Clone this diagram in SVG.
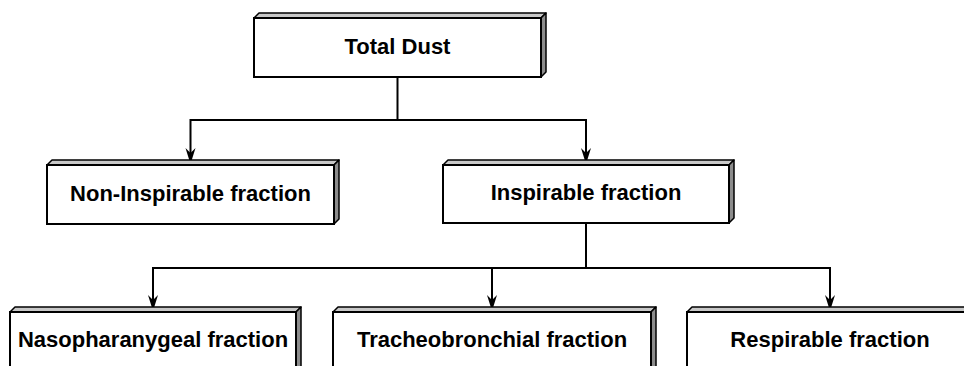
<svg xmlns="http://www.w3.org/2000/svg" width="964" height="366" viewBox="0 0 964 366">
<style>
.front{fill:#fff;stroke:#000;stroke-width:2}
.top{fill:#c8c8c8;stroke:#000;stroke-width:1.5;stroke-linejoin:round}
.side{fill:#8c8c8c;stroke:#000;stroke-width:1.5;stroke-linejoin:round}
.lbl{font-family:"Liberation Sans",Arial,sans-serif;font-weight:bold;font-size:22px;text-anchor:middle;fill:#000}
.conn{fill:none;stroke:#000;stroke-width:2}
</style>
<defs>
<marker id="ah" markerUnits="userSpaceOnUse" markerWidth="20" markerHeight="14" refX="0" refY="0" viewBox="-17 -7 18 14" orient="auto">
<path d="M0,0 L-16,-5 L-11,0 L-16,5 Z" fill="#000"/>
</marker>
</defs>
<rect width="964" height="366" fill="#fff"/>
<g id="connectors">
<path class="conn" d="M397.5,77 V120 H190.5 V164" marker-end="url(#ah)"/>
<path class="conn" d="M397.5,120 H586 V164" marker-end="url(#ah)"/>
<path class="conn" d="M586,223 V268 H153 V311" marker-end="url(#ah)"/>
<path class="conn" d="M492,268 V311" marker-end="url(#ah)"/>
<path class="conn" d="M586,268 H830 V311" marker-end="url(#ah)"/>
</g>
<g id="total-dust">
<polygon class="top" points="254,18 259,13 546,13 541,18"/>
<polygon class="side" points="541,18 546,13 546,72 541,77"/>
<rect class="front" x="254" y="18" width="287" height="59"/>
<text class="lbl" x="397.5" y="54">Total Dust</text>
</g>
<g id="non-inspirable">
<polygon class="top" points="47,165 52,160 339,160 334,165"/>
<polygon class="side" points="334,165 339,160 339,219 334,224"/>
<rect class="front" x="47" y="165" width="287" height="59"/>
<text class="lbl" x="190.5" y="200.5">Non-Inspirable fraction</text>
</g>
<g id="inspirable">
<polygon class="top" points="443,165 448,160 734,160 729,165"/>
<polygon class="side" points="729,165 734,160 734,218 729,223"/>
<rect class="front" x="443" y="165" width="286" height="58"/>
<text class="lbl" x="586" y="200">Inspirable fraction</text>
</g>
<g id="nasopharanygeal">
<polygon class="top" points="10,312 15,307 301,307 296,312"/>
<polygon class="side" points="296,312 301,307 301,380 296,385"/>
<rect class="front" x="10" y="312" width="286" height="70"/>
<text class="lbl" x="153" y="346.5">Nasopharanygeal fraction</text>
</g>
<g id="tracheobronchial">
<polygon class="top" points="333,312 338,307 656,307 651,312"/>
<polygon class="side" points="651,312 656,307 656,380 651,385"/>
<rect class="front" x="333" y="312" width="318" height="70"/>
<text class="lbl" x="492" y="346.5">Tracheobronchial fraction</text>
</g>
<g id="respirable">
<polygon class="top" points="687,312 692,307 978,307 973,312"/>
<polygon class="side" points="973,312 978,307 978,380 973,385"/>
<rect class="front" x="687" y="312" width="286" height="70"/>
<text class="lbl" x="830" y="346.5">Respirable fraction</text>
</g>
</svg>
